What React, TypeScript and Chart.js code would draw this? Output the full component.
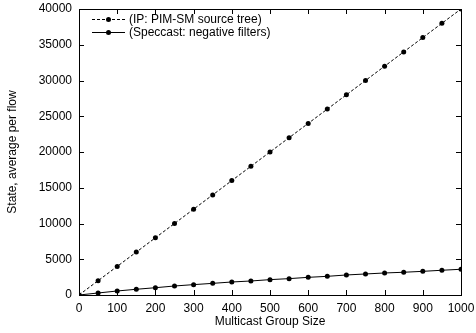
import React, { useEffect, useRef } from "react";
import { Chart, registerables } from "chart.js";

Chart.register(...registerables);

const groupSizes = [0, 50, 100, 150, 200, 250, 300, 350, 400, 450, 500, 550, 600, 650, 700, 750, 800, 850, 900, 950, 1000];
const ipState = [0, 2000, 4000, 6000, 8000, 10000, 12000, 14000, 16000, 18000, 20000, 22000, 24000, 26000, 28000, 30000, 32000, 34000, 36000, 38000, 40000];
const speccastState = [0, 280, 560, 800, 1020, 1260, 1450, 1630, 1820, 1960, 2150, 2290, 2470, 2610, 2800, 2940, 3080, 3180, 3310, 3460, 3600];
const seriesLabels = ["(IP: PIM-SM source tree)", "(Speccast: negative filters)"];
const xTitle = "Multicast Group Size";
const yTitle = "State, average per flow";

const FONT = "'Liberation Sans', Arial, Helvetica, sans-serif";

const boxPlugin = {
  id: "gnuplotBox",
  afterDatasetsDraw(chart: any) {
    const { ctx, chartArea, scales } = chart;
    const { left, right, top, bottom } = chartArea;
    ctx.save();
    ctx.strokeStyle = "#000";
    ctx.lineWidth = 1;
    ctx.setLineDash([]);
    ctx.beginPath();
    const tl = 5;
    scales.x.ticks.forEach((t: any) => {
      const px = Math.round(scales.x.getPixelForValue(t.value)) + 0.5;
      ctx.moveTo(px, bottom);
      ctx.lineTo(px, bottom - tl);
      ctx.moveTo(px, top);
      ctx.lineTo(px, top + tl);
    });
    scales.y.ticks.forEach((t: any) => {
      const py = Math.round(scales.y.getPixelForValue(t.value)) + 0.5;
      ctx.moveTo(left, py);
      ctx.lineTo(left + tl, py);
      ctx.moveTo(right, py);
      ctx.lineTo(right - tl, py);
    });
    ctx.stroke();
    ctx.strokeRect(Math.round(left) + 0.5, Math.round(top) + 0.5, Math.round(right - left), Math.round(bottom - top));

    // legend
    const lx0 = left + 13;
    const lx1 = left + 46;
    const ly = top + 10;
    const rowH = 13;
    ctx.font = `12px ${FONT}`;
    ctx.textBaseline = "middle";
    ctx.textAlign = "left";
    ctx.fillStyle = "#000";
    chart.data.datasets.forEach((ds: any, i: number) => {
      const y = Math.round(ly + i * rowH) + 0.5;
      ctx.beginPath();
      ctx.setLineDash(ds.borderDash || []);
      ctx.moveTo(lx0, y);
      ctx.lineTo(lx1, y);
      ctx.stroke();
      ctx.setLineDash([]);
      ctx.beginPath();
      ctx.arc((lx0 + lx1) / 2, y, 2.5, 0, Math.PI * 2);
      ctx.fill();
      ctx.fillText(ds.label, lx1 + 4, y);
    });
    ctx.restore();
  },
};

export default function App() {
  const ref = useRef<HTMLCanvasElement>(null);
  useEffect(() => {
    if (!ref.current) return;
    const chart = new Chart(ref.current, {
      type: "line",
      data: {
        datasets: [
          {
            label: seriesLabels[0],
            data: groupSizes.map((x, i) => ({ x, y: ipState[i] })),
            borderColor: "#000",
            backgroundColor: "#000",
            borderWidth: 1,
            borderDash: [3, 2],
            pointRadius: 2.5,
            pointBorderWidth: 0,
            pointBackgroundColor: "#000",
            tension: 0,
          },
          {
            label: seriesLabels[1],
            data: groupSizes.map((x, i) => ({ x, y: speccastState[i] })),
            borderColor: "#000",
            backgroundColor: "#000",
            borderWidth: 1,
            pointRadius: 2.5,
            pointBorderWidth: 0,
            pointBackgroundColor: "#000",
            tension: 0,
          },
        ],
      },
      plugins: [boxPlugin],
      options: {
        animation: false,
        responsive: false,
        devicePixelRatio: 1,
        layout: { padding: { top: 9, right: 15, left: 0, bottom: 0 } },
        plugins: { legend: { display: false }, tooltip: { enabled: false } },
        scales: {
          x: {
            type: "linear",
            min: 0,
            max: 1000,
            grid: { display: false, drawTicks: false },
            border: { display: false },
            ticks: { stepSize: 100, color: "#000", padding: 6, maxRotation: 0, font: { family: FONT, size: 12 }, callback: (v: any) => String(v) },
            title: { display: true, text: xTitle, color: "#000", font: { family: FONT, size: 12 }, padding: { top: 0, bottom: 4 } },
            afterFit: (s: any) => { s.height = 38; s.paddingLeft = 0; s.paddingRight = 0; },
          },
          y: {
            type: "linear",
            min: 0,
            max: 40000,
            grid: { display: false, drawTicks: false },
            border: { display: false },
            ticks: { stepSize: 5000, color: "#000", padding: 7, font: { family: FONT, size: 12 }, callback: (v: any) => String(v) },
            title: { display: true, text: yTitle, color: "#000", font: { family: FONT, size: 12 }, padding: { top: 5, bottom: 0 } },
            afterFit: (s: any) => { s.width = 79; s.paddingTop = 0; s.paddingBottom = 0; },
          },
        },
      },
    });
    return () => chart.destroy();
  }, []);
  return (
    <div style={{ position: "fixed", left: 0, top: 0, width: 476, height: 333, background: "#fff" }}>
      <canvas ref={ref} width={476} height={333} style={{ display: "block", width: 476, height: 333 }} />
    </div>
  );
}
